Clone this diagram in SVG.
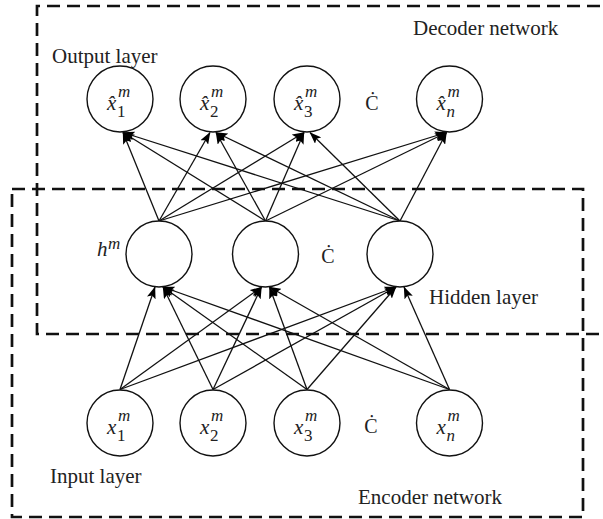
<svg xmlns="http://www.w3.org/2000/svg" width="603" height="519" viewBox="0 0 603 519">
<defs>
<marker id="arr" markerUnits="userSpaceOnUse" markerWidth="12" markerHeight="9" refX="11.5" refY="4.5" orient="auto">
<path d="M0,0 L12,4.5 L0,9 L2.5,4.5 z" fill="#000"/>
</marker>
</defs>
<style>
.box{fill:none;stroke:#111;stroke-width:2.7;stroke-dasharray:13 7}
.node{fill:#fff;stroke:#111;stroke-width:1.4}
.lab{font-family:"Liberation Serif",serif;font-size:21px;fill:#222}
.v{font-family:"Liberation Serif",serif;font-style:italic;font-size:21px;fill:#222}
.s{font-family:"Liberation Serif",serif;font-style:italic;font-size:17px;fill:#222}
.d{font-family:"Liberation Serif",serif;font-size:17px;fill:#222}
.dots{font-family:"Liberation Serif",serif;font-size:20px;fill:#222;text-anchor:middle}
.c line{stroke:#111;stroke-width:1.3;marker-end:url(#arr)}
</style>
<g id="decoder-box"><path class="box" d="M620,6 H37 V334 H620"/><text class="lab" x="413" y="35">Decoder network</text></g>
<g id="encoder-box"><rect class="box" x="12" y="189" width="571" height="328"/><text class="lab" x="358" y="504">Encoder network</text></g>
<g id="connectors" class="c">
<line x1="159" y1="221" x2="123" y2="132.5"/>
<line x1="159" y1="221" x2="210" y2="132.5"/>
<line x1="159" y1="221" x2="304" y2="132.5"/>
<line x1="159" y1="221" x2="446.5" y2="132.5"/>
<line x1="265.5" y1="221" x2="123" y2="132.5"/>
<line x1="265.5" y1="221" x2="216" y2="132.5"/>
<line x1="265.5" y1="221" x2="304" y2="132.5"/>
<line x1="265.5" y1="221" x2="446.5" y2="132.5"/>
<line x1="400" y1="221" x2="123" y2="132.5"/>
<line x1="400" y1="221" x2="216" y2="132.5"/>
<line x1="400" y1="221" x2="310" y2="132.5"/>
<line x1="400" y1="221" x2="446.5" y2="132.5"/>
<line x1="120" y1="389.5" x2="155" y2="287"/>
<line x1="120" y1="389.5" x2="261.5" y2="287"/>
<line x1="120" y1="389.5" x2="396" y2="287"/>
<line x1="213" y1="389.5" x2="163" y2="287"/>
<line x1="213" y1="389.5" x2="261.5" y2="287"/>
<line x1="213" y1="389.5" x2="396" y2="287"/>
<line x1="307" y1="389.5" x2="163" y2="287"/>
<line x1="307" y1="389.5" x2="269.5" y2="287"/>
<line x1="307" y1="389.5" x2="396" y2="287"/>
<line x1="449.5" y1="389.5" x2="163" y2="287"/>
<line x1="449.5" y1="389.5" x2="269.5" y2="287"/>
<line x1="449.5" y1="389.5" x2="404" y2="287"/>
</g>
<g id="output-layer"><text class="lab" x="52" y="63">Output layer</text></g>
<g id="out1"><circle class="node" cx="120" cy="99" r="33"/><text class="v" x="107" y="110">x&#x302;</text><text class="s" x="118" y="97">m</text><text class="d" x="117" y="117">1</text></g>
<g id="out2"><circle class="node" cx="213" cy="99" r="33"/><text class="v" x="200" y="110">x&#x302;</text><text class="s" x="211" y="97">m</text><text class="d" x="210" y="117">2</text></g>
<g id="out3"><circle class="node" cx="307" cy="99" r="33"/><text class="v" x="294" y="110">x&#x302;</text><text class="s" x="305" y="97">m</text><text class="d" x="304" y="117">3</text></g>
<text class="dots" x="372" y="110">Ċ</text>
<g id="outn"><circle class="node" cx="449.5" cy="99" r="33"/><text class="v" x="436.5" y="110">x&#x302;</text><text class="s" x="447.5" y="97">m</text><text class="s" x="446.5" y="117">n</text></g>
<g id="hidden-layer"><text class="lab" x="429" y="304">Hidden layer</text><text class="v" x="97" y="256">h</text><text class="s" x="108" y="249">m</text></g>
<g id="hid1"><circle class="node" cx="159" cy="254" r="33"/></g>
<g id="hid2"><circle class="node" cx="265.5" cy="254" r="33"/></g>
<text class="dots" x="328" y="263">Ċ</text>
<g id="hid3"><circle class="node" cx="400" cy="254" r="33"/></g>
<g id="input-layer"><text class="lab" x="50" y="483">Input layer</text></g>
<g id="in1"><circle class="node" cx="120" cy="423" r="33"/><text class="v" x="107" y="434">x</text><text class="s" x="118" y="421">m</text><text class="d" x="117" y="441">1</text></g>
<g id="in2"><circle class="node" cx="213" cy="423" r="33"/><text class="v" x="200" y="434">x</text><text class="s" x="211" y="421">m</text><text class="d" x="210" y="441">2</text></g>
<g id="in3"><circle class="node" cx="307" cy="423" r="33"/><text class="v" x="294" y="434">x</text><text class="s" x="305" y="421">m</text><text class="d" x="304" y="441">3</text></g>
<text class="dots" x="371" y="433">Ċ</text>
<g id="inn"><circle class="node" cx="449.5" cy="423" r="33"/><text class="v" x="436.5" y="434">x</text><text class="s" x="447.5" y="421">m</text><text class="s" x="446.5" y="441">n</text></g>
</svg>
